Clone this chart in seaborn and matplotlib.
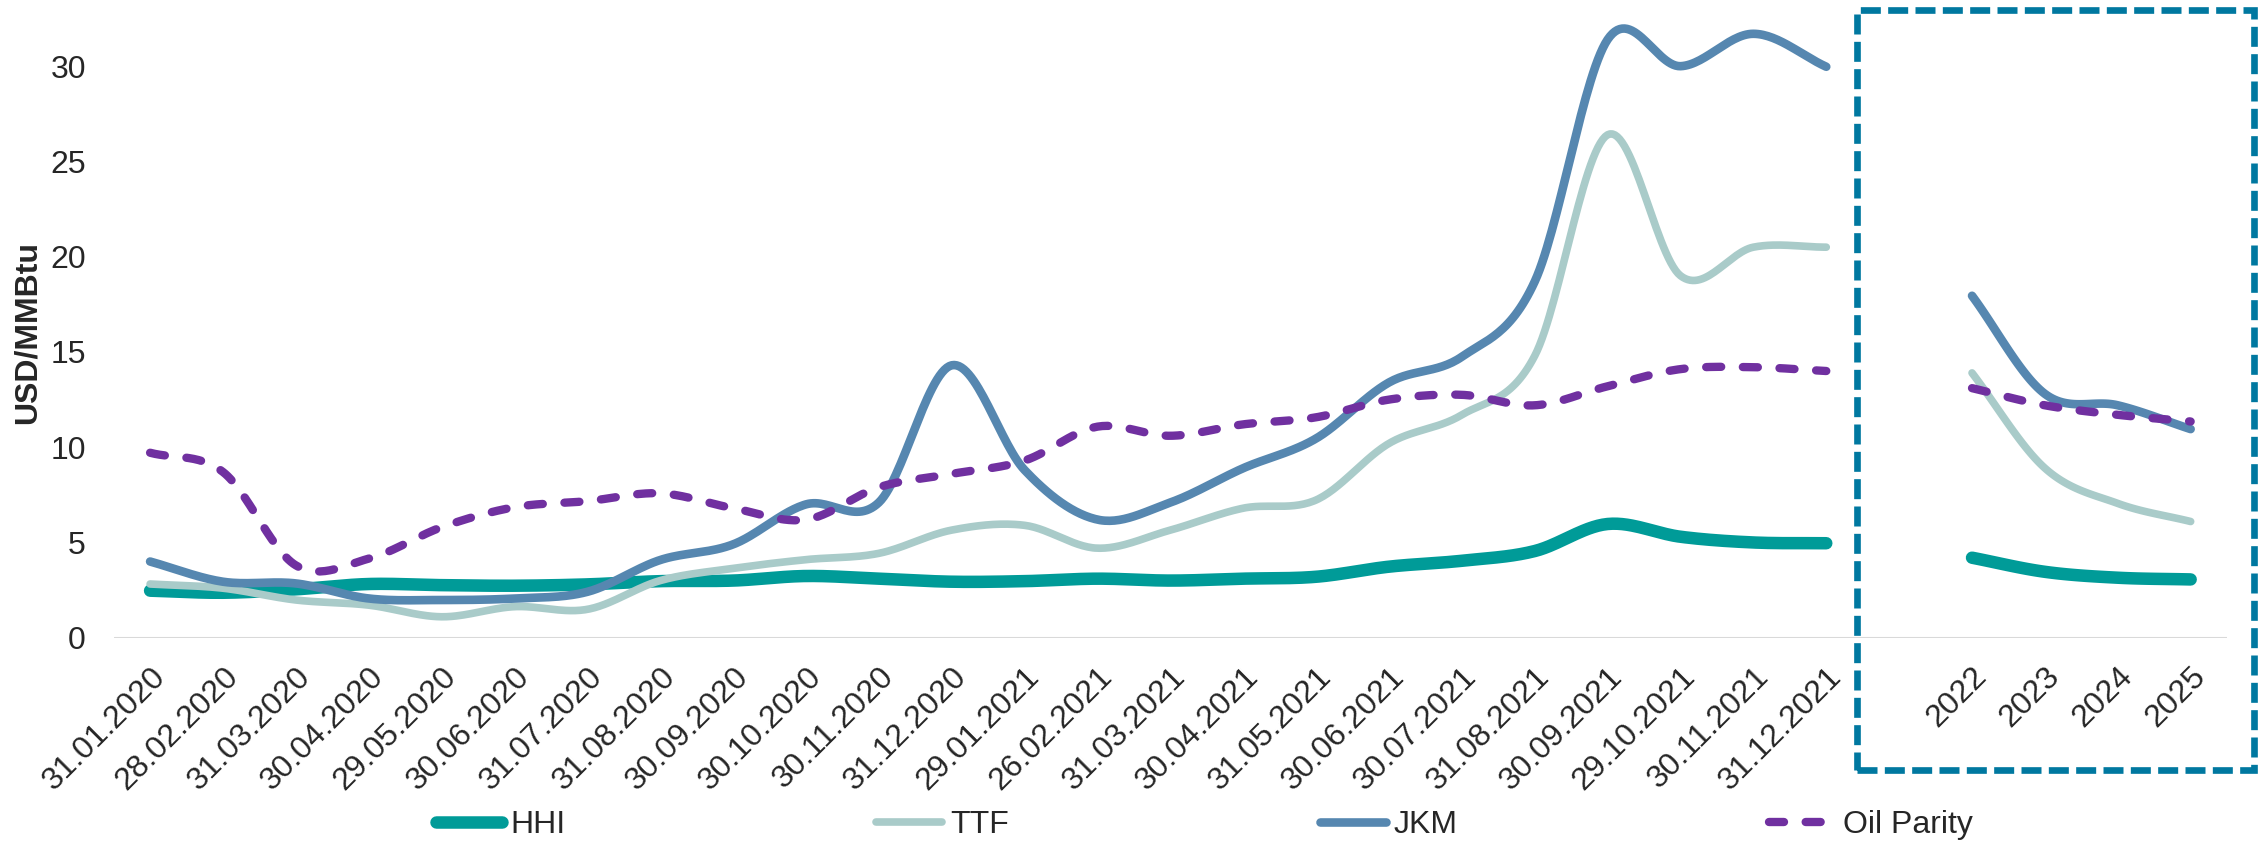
import numpy as np
import pandas as pd
import matplotlib
matplotlib.use("Agg")
import matplotlib.pyplot as plt
import seaborn as sns
from matplotlib.patches import Rectangle

# ---------------- data ----------------
month_labels = ["31.01.2020", "28.02.2020", "31.03.2020", "30.04.2020", "29.05.2020",
                "30.06.2020", "31.07.2020", "31.08.2020", "30.09.2020", "30.10.2020",
                "30.11.2020", "31.12.2020", "29.01.2021", "26.02.2021", "31.03.2021",
                "30.04.2021", "31.05.2021", "30.06.2021", "30.07.2021", "31.08.2021",
                "30.09.2021", "29.10.2021", "30.11.2021", "31.12.2021"]
year_labels = ["2022", "2023", "2024", "2025"]

hhi_hist = [2.47, 2.36, 2.54, 2.82, 2.76, 2.73, 2.80, 2.97, 3.00, 3.24, 3.10, 2.94,
            2.97, 3.10, 3.00, 3.10, 3.20, 3.73, 4.04, 4.55, 5.97, 5.30, 5.00, 4.96]
ttf_hist = [2.82, 2.60, 1.98, 1.71, 1.10, 1.63, 1.49, 3.00, 3.64, 4.10, 4.43, 5.65,
            5.90, 4.70, 5.65, 6.80, 7.23, 10.20, 11.70, 14.80, 26.40, 19.00, 20.50, 20.50]
jkm_hist = [4.00, 2.94, 2.85, 2.06, 1.98, 2.06, 2.41, 4.08, 4.90, 7.00, 7.10, 14.30,
            8.80, 6.20, 7.10, 8.90, 10.46, 13.40, 14.75, 18.70, 31.40, 30.00, 31.70, 29.97]
oil_hist = [9.71, 8.70, 3.80, 4.15, 5.80, 6.85, 7.17, 7.58, 6.80, 6.20, 7.90, 8.60,
            9.30, 11.08, 10.60, 11.20, 11.57, 12.50, 12.75, 12.20, 13.20, 14.10, 14.20, 14.00]

hhi_fcst = [4.20, 3.46, 3.15, 3.06]
ttf_fcst = [13.90, 8.90, 7.05, 6.10]
jkm_fcst = [17.95, 12.80, 12.20, 10.95]
oil_fcst = [13.10, 12.20, 11.70, 11.35]

series_names = ["HHI", "TTF", "JKM", "Oil Parity"]
hist_values = [hhi_hist, ttf_hist, jkm_hist, oil_hist]
fcst_values = [hhi_fcst, ttf_fcst, jkm_fcst, oil_fcst]

colors = {"HHI": "#009B98", "TTF": "#A9CBC9", "JKM": "#5687B0", "Oil Parity": "#7030A0"}
widths = {"HHI": 9.0, "TTF": 5.5, "JKM": 6.2, "Oil Parity": 6.0}

# category positions (gap of one slot between history and forecast)
hist_pos = np.arange(len(month_labels))
fcst_pos = np.arange(len(year_labels)) + len(month_labels) + 1


def smooth(xs, ys, n=30):
    """Catmull-Rom rendering of a line through the given points (Excel 'smoothed line')."""
    xs = np.asarray(xs, float)
    ys = np.asarray(ys, float)
    p = np.concatenate([[2 * ys[0] - ys[1]], ys, [2 * ys[-1] - ys[-2]]])
    m = (p[2:] - p[:-2]) / 2.0
    out_x, out_y = [], []
    t = np.linspace(0, 1, n, endpoint=False)
    h00 = 2 * t**3 - 3 * t**2 + 1
    h10 = t**3 - 2 * t**2 + t
    h01 = -2 * t**3 + 3 * t**2
    h11 = t**3 - t**2
    for i in range(len(ys) - 1):
        out_x.append(xs[i] + t * (xs[i + 1] - xs[i]))
        out_y.append(h00 * ys[i] + h10 * m[i] + h01 * ys[i + 1] + h11 * m[i + 1])
    out_x.append([xs[-1]])
    out_y.append([ys[-1]])
    return np.concatenate(out_x), np.concatenate(out_y)


rows = []
for name, hv, fv in zip(series_names, hist_values, fcst_values):
    for seg, (pos, vals) in enumerate([(hist_pos, hv), (fcst_pos, fv)]):
        sx, sy = smooth(pos, vals)
        for a, b in zip(sx, sy):
            rows.append({"series": name, "segment": seg, "pos": a, "value": b})
df = pd.DataFrame(rows)

# ---------------- style ----------------
sns.set_theme(style="white")
plt.rcParams["font.family"] = ["Liberation Sans", "DejaVu Sans"]
FS = 23

fig = plt.figure(figsize=(22.64, 8.44), dpi=100)
ax = fig.add_axes([0.0502, 0.2444, 0.9335, 0.7449])

ax.axhline(0, color="#D9D9D9", lw=2.2, zorder=0)

handles = {}
for name in series_names:
    for seg in (0, 1):
        sub = df[(df.series == name) & (df.segment == seg)]
        sns.lineplot(data=sub, x="pos", y="value", ax=ax, color=colors[name],
                     lw=widths[name], sort=False, estimator=None, legend=False)
        line = ax.lines[-1]
        if name == "Oil Parity":
            line.set_linestyle((0, (1.8, 2.6)))
            line.set_dash_capstyle("round")
        else:
            line.set_solid_capstyle("round")
        if seg == 0:
            handles[name] = line

ax.set_xlim(-0.5, 28.5)
ax.set_ylim(0, 33)
ax.set_yticks([0, 5, 10, 15, 20, 25, 30])
ax.set_yticklabels(["0", "5", "10", "15", "20", "25", "30"], fontsize=FS)
ax.set_xticks(list(hist_pos) + list(fcst_pos))
ax.set_xticklabels(month_labels + year_labels, fontsize=FS, rotation=45,
                   ha="right", va="top", rotation_mode="anchor")
ax.tick_params(axis="x", length=0, pad=17)
ax.tick_params(axis="y", length=0, pad=20)
for s in ax.spines.values():
    s.set_visible(False)
ax.grid(False)
ax.set_xlabel("")
ax.set_ylabel("USD/MMBtu", fontsize=FS, fontweight="bold")
ax.yaxis.set_label_coords(-0.0334, 0.486)

# dashed box around the forecast years
box = Rectangle((0.8202, 0.0877), 0.1754, 0.9005, transform=fig.transFigure,
                fill=False, edgecolor="#0078A0", lw=4.8, linestyle=(0, (3.0, 1.1)))
fig.patches.append(box)

fig.legend([handles[n] for n in series_names], series_names, loc="center",
           bbox_to_anchor=(0.532, 0.0225), ncol=4, frameon=False, fontsize=FS,
           handlelength=2.05, handletextpad=0.25, columnspacing=9.75, borderpad=0)

fig.savefig("out.png", dpi=100)
